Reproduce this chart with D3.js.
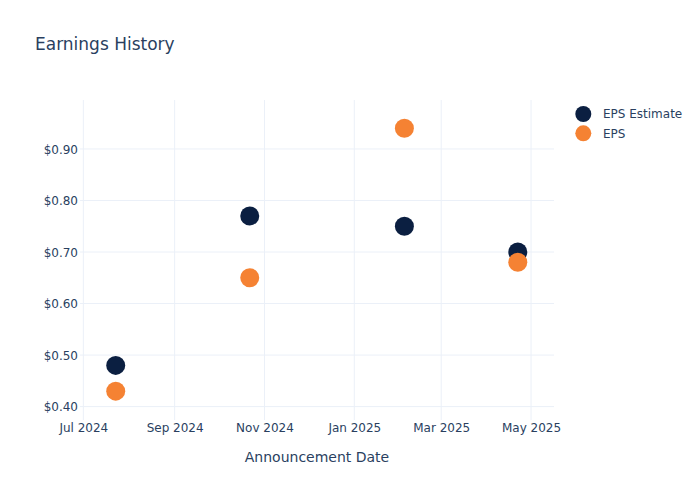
<!DOCTYPE html>
<html>
<head>
<meta charset="utf-8">
<script src="https://cdn.jsdelivr.net/npm/d3@7"></script>
<style>
  html, body { margin: 0; padding: 0; background: #fff; }
  svg { display: block; font-family: "DejaVu Sans", sans-serif; }
</style>
</head>
<body>
<svg id="chart" width="700" height="500"></svg>
<script>
// ---- data ----
const dates = ["2024-07-23", "2024-10-22", "2025-02-04", "2025-04-22"];
const epsEstimate = [0.48, 0.77, 0.75, 0.70];
const epsActual = [0.43, 0.65, 0.94, 0.68];
const seriesNames = ["EPS Estimate", "EPS"];
const seriesColors = ["#0b1f41", "#f58233"];
const yTicks = [0.4, 0.5, 0.6, 0.7, 0.8, 0.9];
const xDomain = ["2024-06-28T18:00", "2025-05-16T14:00"];
const yDomain = [0.374, 0.995];
const titleText = "Earnings History";
const xTitle = "Announcement Date";

// ---- layout ----
const W = 700, H = 500;
const plot = { left: 80, right: 554, top: 100, bottom: 420 };
const textColor = "#2a3f5f";
const gridColor = "#ebf0f8";

const svg = d3.select("#chart");
const parse = d3.isoParse;

const x = d3.scaleTime()
  .domain(xDomain.map(d => new Date(d)))
  .range([plot.left, plot.right]);
const y = d3.scaleLinear()
  .domain(yDomain)
  .range([plot.bottom, plot.top]);

// gridlines
const xTickVals = d3.timeMonth.every(2).range(new Date(2024, 6, 1), new Date(2025, 5, 1));
svg.append("g").attr("class", "xgrid")
  .selectAll("line").data(xTickVals).join("line")
  .attr("x1", d => x(d)).attr("x2", d => x(d))
  .attr("y1", plot.top).attr("y2", plot.bottom)
  .attr("stroke", gridColor).attr("stroke-width", 1);

svg.append("g").attr("class", "ygrid")
  .selectAll("line").data(yTicks).join("line")
  .attr("x1", plot.left).attr("x2", plot.right)
  .attr("y1", d => y(d)).attr("y2", d => y(d))
  .attr("stroke", gridColor).attr("stroke-width", 1);

// axes (labels only)
const xAxis = d3.axisBottom(x).tickValues(xTickVals)
  .tickFormat(d3.timeFormat("%b %Y")).tickSize(0).tickPadding(0);
const gx = svg.append("g").attr("transform", `translate(0,${plot.bottom})`).call(xAxis);
gx.select(".domain").remove();
gx.selectAll("text").attr("y", 12).attr("dy", 0)
  .attr("fill", textColor).style("font-size", "12px")
  .style("font-family", "DejaVu Sans, sans-serif");

const yAxis = d3.axisLeft(y).tickValues(yTicks)
  .tickFormat(d => "$" + d3.format(".2f")(d)).tickSize(0).tickPadding(0);
const gy = svg.append("g").attr("transform", `translate(${plot.left - 2},0)`).call(yAxis);
gy.select(".domain").remove();
gy.selectAll("text").attr("x", 0).attr("dy", "0.35em")
  .attr("fill", textColor).style("font-size", "12px")
  .style("font-family", "DejaVu Sans, sans-serif");

// points
const series = [epsEstimate, epsActual];
series.forEach((vals, i) => {
  svg.append("g").attr("class", "series-" + i)
    .selectAll("circle").data(vals.map((v, j) => ({ date: parse(dates[j]), v })))
    .join("circle")
    .attr("cx", d => x(d.date))
    .attr("cy", d => y(d.v))
    .attr("r", 9.5)
    .attr("fill", seriesColors[i]);
});

// title
svg.append("text").attr("x", 35).attr("y", 50)
  .attr("fill", textColor).style("font-size", "17px").text(titleText);

// x axis title
svg.append("text").attr("x", (plot.left + plot.right) / 2 + 0).attr("y", 462)
  .attr("text-anchor", "middle").attr("fill", textColor)
  .style("font-size", "14px").text(xTitle);

// legend
const legend = svg.append("g").attr("class", "legend");
seriesNames.forEach((name, i) => {
  const ly = 114 + i * 19.3;
  legend.append("circle").attr("cx", 583.3).attr("cy", ly).attr("r", 8)
    .attr("fill", seriesColors[i]);
  legend.append("text").attr("x", 603).attr("y", ly).attr("dy", "0.35em")
    .attr("fill", textColor).style("font-size", "12px").text(name);
});
</script>
</body>
</html>
